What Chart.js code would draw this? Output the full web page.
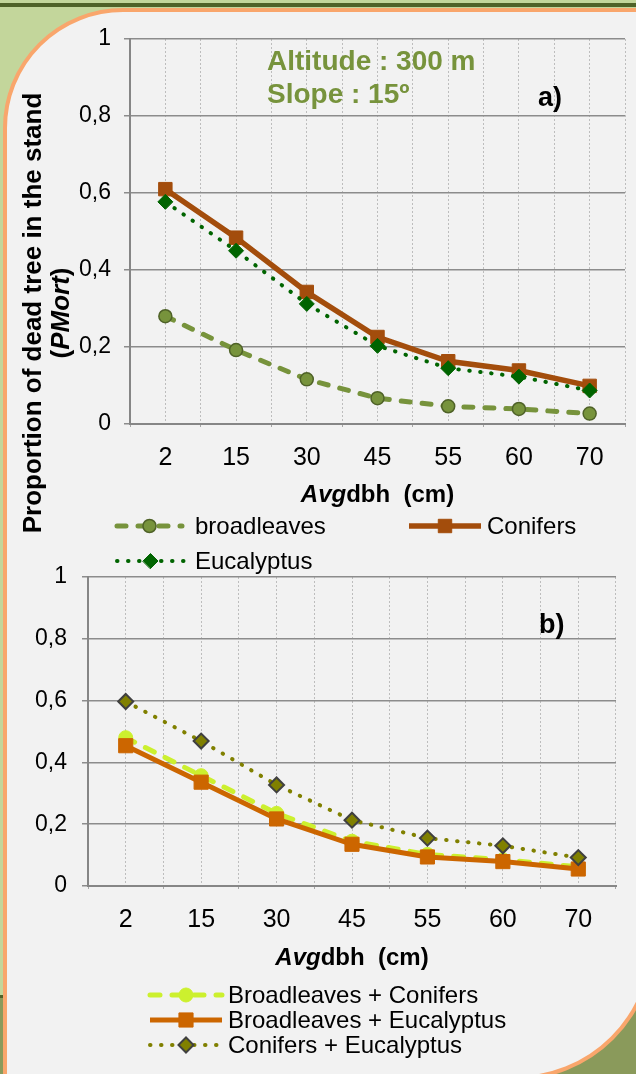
<!DOCTYPE html>
<html>
<head>
<meta charset="utf-8">
<script src="https://cdn.jsdelivr.net/npm/chart.js@4.4.1/dist/chart.umd.min.js"></script>
<style>
  html, body { margin: 0; padding: 0; }
  body {
    width: 636px; height: 1074px; position: relative; overflow: hidden;
    background: linear-gradient(to bottom,
      #c3d69b 0, #c3d69b 3px, #4f6228 3px, #4f6228 7px, #c3d69b 7px,
      #c3d69b 995px, #4f6228 995px, #4f6228 998px, #8a9a5b 998px);
  }
  #panel {
    position: absolute; left: 3px; top: 8px; width: 651px; height: 1072px;
    box-sizing: border-box; border: 4px solid #f9a66c;
    border-radius: 120px 0 138px 0; background: #f2f2f2;
  }
  canvas { position: absolute; left: 0; }
  #chartA { top: 0; }
  #chartB { top: 545px; }
</style>
</head>
<body>
<div id="panel"></div>
<canvas id="chartA" width="636" height="575"></canvas>
<canvas id="chartB" width="636" height="529"></canvas>
<script>
// categories and tick values
const dbhLabels = ['2', '15', '30', '45', '55', '60', '70'];
const yTickValues = [0, 0.2, 0.4, 0.6, 0.8, 1];

// a) pure stands
const broadleaves = [0.280, 0.192, 0.116, 0.067, 0.046, 0.039, 0.027];
const conifers    = [0.610, 0.484, 0.343, 0.226, 0.163, 0.139, 0.099];
const eucalyptus  = [0.577, 0.450, 0.312, 0.203, 0.145, 0.123, 0.087];

// b) mixed stands
const broadConifers      = [0.480, 0.357, 0.235, 0.145, 0.102, 0.085, 0.062];
const broadEucalyptus    = [0.454, 0.336, 0.217, 0.135, 0.094, 0.079, 0.055];
const conifersEucalyptus = [0.597, 0.469, 0.327, 0.213, 0.155, 0.130, 0.092];

const FONT = '"Liberation Sans", Arial, sans-serif';

function drawMarker(ctx, ds, x, y) {
    const r = ds.pointRadius;
    ctx.beginPath();
    if (ds.pointStyle === 'circle') {
        ctx.arc(x, y, r, 0, Math.PI * 2);
    } else if (ds.pointStyle === 'rect') {
        const s = r * Math.SQRT1_2;
        ctx.rect(x - s, y - s, 2 * s, 2 * s);
    } else {
        ctx.moveTo(x - r, y); ctx.lineTo(x, y - r);
        ctx.lineTo(x + r, y); ctx.lineTo(x, y + r);
        ctx.closePath();
    }
    ctx.fillStyle = ds.pointBackgroundColor;
    ctx.fill();
    if (ds.pointBorderWidth) {
        ctx.lineWidth = ds.pointBorderWidth;
        ctx.strokeStyle = ds.pointBorderColor;
        ctx.stroke();
    }
}

function drawLegend(ctx, chart, items) {
    items.forEach(it => {
        const ds = chart.data.datasets[it.index];
        ctx.save();
        ctx.strokeStyle = ds.borderColor;
        ctx.lineWidth = ds.borderWidth;
        ctx.lineCap = ds.borderCapStyle || 'butt';
        ctx.setLineDash(ds.borderDash || []);
        ctx.beginPath();
        ctx.moveTo(it.x0, it.y);
        ctx.lineTo(it.x1, it.y);
        ctx.stroke();
        ctx.setLineDash([]);
        drawMarker(ctx, ds, (it.x0 + it.x1) / 2, it.y);
        ctx.fillStyle = '#000';
        ctx.font = '24px ' + FONT;
        ctx.textAlign = 'left';
        ctx.textBaseline = 'middle';
        ctx.fillText(ds.label, it.tx, it.y + 1);
        ctx.restore();
    });
}

// text made of runs with different fonts (italic parts)
function drawRuns(ctx, runs, x, y) {
    let total = 0;
    runs.forEach(r => { ctx.font = r.font; r.w = ctx.measureText(r.text).width; total += r.w; });
    let cx = x - total / 2;
    ctx.textAlign = 'left';
    runs.forEach(r => { ctx.font = r.font; ctx.fillText(r.text, cx, y); cx += r.w; });
}

function xTitle(ctx, chart, y) {
    const a = chart.chartArea;
    ctx.save();
    ctx.fillStyle = '#000';
    ctx.textBaseline = 'middle';
    drawRuns(ctx, [
        { text: 'Avg', font: 'italic bold 24px ' + FONT },
        { text: 'dbh  (cm)', font: 'bold 24px ' + FONT }
    ], (a.left + a.right) / 2, y);
    ctx.restore();
}

function makeScales(yWidth, yPad) {
    return {
        x: {
            type: 'category', offset: true,
            grid: { offset: true, color: '#bdbdbd', lineWidth: 1, drawTicks: true, tickLength: 3, tickColor: '#a6a6a6' },
            border: { display: true, color: '#868686', width: 2, dash: [2, 2] },
            ticks: { color: '#000', font: { family: FONT, size: 25 }, padding: 16, maxRotation: 0, autoSkip: false },
            afterFit: s => { s.height = 50; }
        },
        x2: {
            type: 'category', labels: dbhLabels, offset: true, position: 'bottom',
            grid: { offset: false, color: '#bdbdbd', lineWidth: 1, drawTicks: false },
            border: { display: false, dash: [2, 2] },
            ticks: { display: false },
            afterFit: s => { s.height = 0; }
        },
        y: {
            min: 0, max: 1,
            afterBuildTicks: s => { s.ticks = yTickValues.map(v => ({ value: v })); },
            grid: { color: '#8c8c8c', lineWidth: 1.5, tickLength: 6 },
            border: { color: '#868686', width: 2 },
            ticks: {
                color: '#000', font: { family: FONT, size: 23 }, padding: yPad,
                callback: v => String(Number(v.toFixed(1))).replace('.', ',')
            },
            afterFit: s => { s.width = yWidth; }
        }
    };
}

const common = {
    responsive: false, animation: false, events: [],
    plugins: { legend: { display: false }, tooltip: { enabled: false } }
};

// a) chart
const decorA = {
    id: 'decorA',
    afterDraw(chart) {
        const ctx = chart.ctx;
        ctx.save();
        ctx.textAlign = 'left';
        ctx.textBaseline = 'alphabetic';
        ctx.fillStyle = '#77933c';
        ctx.font = 'bold 28px ' + FONT;
        ctx.fillText('Altitude : 300 m', 267, 70);
        ctx.fillText('Slope : 15º', 267, 103);
        ctx.fillStyle = '#000';
        ctx.font = 'bold 27px ' + FONT;
        ctx.fillText('a)', 538, 106);

        // y title, rotated
        ctx.translate(41, 313);
        ctx.rotate(-Math.PI / 2);
        ctx.textAlign = 'center';
        ctx.font = 'bold 26px ' + FONT;
        ctx.fillText('Proportion of dead tree in the stand', 0, 0);
        ctx.translate(0, 28);
        drawRuns(ctx, [
            { text: '(', font: 'bold 26px ' + FONT },
            { text: 'PMort', font: 'italic bold 26px ' + FONT },
            { text: ')', font: 'bold 26px ' + FONT }
        ], 0, 0);
        ctx.restore();

        xTitle(ctx, chart, 495);
        drawLegend(ctx, chart, [
            { index: 0, x0: 117, x1: 182, tx: 195, y: 526 },
            { index: 1, x0: 409, x1: 481, tx: 487, y: 526 },
            { index: 2, x0: 117, x1: 184, tx: 195, y: 561 }
        ]);
    }
};

new Chart(document.getElementById('chartA'), {
    type: 'line',
    data: {
        labels: dbhLabels,
        datasets: [
            {
                label: 'broadleaves', data: broadleaves, order: 2,
                borderColor: '#77933c', borderWidth: 5, borderDash: [9, 12], borderCapStyle: 'round',
                pointStyle: 'circle', pointRadius: 6.5, pointBackgroundColor: '#77933c',
                pointBorderColor: '#4f6228', pointBorderWidth: 1.5
            },
            {
                label: 'Conifers', data: conifers, order: 1,
                borderColor: '#a34d0c', borderWidth: 5.5,
                pointStyle: 'rect', pointRadius: 9.5, pointBackgroundColor: '#a34d0c',
                pointBorderColor: '#a34d0c', pointBorderWidth: 1
            },
            {
                label: 'Eucalyptus', data: eucalyptus, order: 0,
                borderColor: '#006400', borderWidth: 4, borderDash: [0.5, 10.5], borderCapStyle: 'round',
                pointStyle: 'rectRot', pointRadius: 7.5, pointBackgroundColor: '#006400',
                pointBorderColor: '#006400', pointBorderWidth: 1
            }
        ]
    },
    options: Object.assign({}, common, {
        layout: { padding: { top: 39, right: 11, bottom: 101, left: 0 } },
        scales: makeScales(130, 13)
    }),
    plugins: [decorA]
});

// b) chart
const decorB = {
    id: 'decorB',
    afterDraw(chart) {
        const ctx = chart.ctx;
        ctx.save();
        ctx.fillStyle = '#000';
        ctx.textAlign = 'left';
        ctx.textBaseline = 'alphabetic';
        ctx.font = 'bold 27px ' + FONT;
        ctx.fillText('b)', 539, 88);
        ctx.restore();

        xTitle(ctx, chart, 413);
        drawLegend(ctx, chart, [
            { index: 0, x0: 150, x1: 222, tx: 228, y: 450 },
            { index: 1, x0: 150, x1: 222, tx: 228, y: 475 },
            { index: 2, x0: 150, x1: 222, tx: 228, y: 500 }
        ]);
    }
};

new Chart(document.getElementById('chartB'), {
    type: 'line',
    data: {
        labels: dbhLabels,
        datasets: [
            {
                label: 'Broadleaves + Conifers', data: broadConifers, order: 2,
                borderColor: '#ccf02e', borderWidth: 5, borderDash: [10, 12], borderCapStyle: 'round',
                pointStyle: 'circle', pointRadius: 7, pointBackgroundColor: '#ccf02e',
                pointBorderColor: '#ccf02e', pointBorderWidth: 1
            },
            {
                label: 'Broadleaves + Eucalyptus', data: broadEucalyptus, order: 1,
                borderColor: '#cc6600', borderWidth: 5,
                pointStyle: 'rect', pointRadius: 10, pointBackgroundColor: '#cc6600',
                pointBorderColor: '#cc6600', pointBorderWidth: 1
            },
            {
                label: 'Conifers + Eucalyptus', data: conifersEucalyptus, order: 0,
                borderColor: '#808000', borderWidth: 4, borderDash: [0.5, 10.5], borderCapStyle: 'round',
                pointStyle: 'rectRot', pointRadius: 7.5, pointBackgroundColor: '#808000',
                pointBorderColor: '#404040', pointBorderWidth: 2
            }
        ]
    },
    options: Object.assign({}, common, {
        layout: { padding: { top: 32, right: 20, bottom: 138, left: 0 } },
        scales: makeScales(88, 15)
    }),
    plugins: [decorB]
});
</script>
</body>
</html>
